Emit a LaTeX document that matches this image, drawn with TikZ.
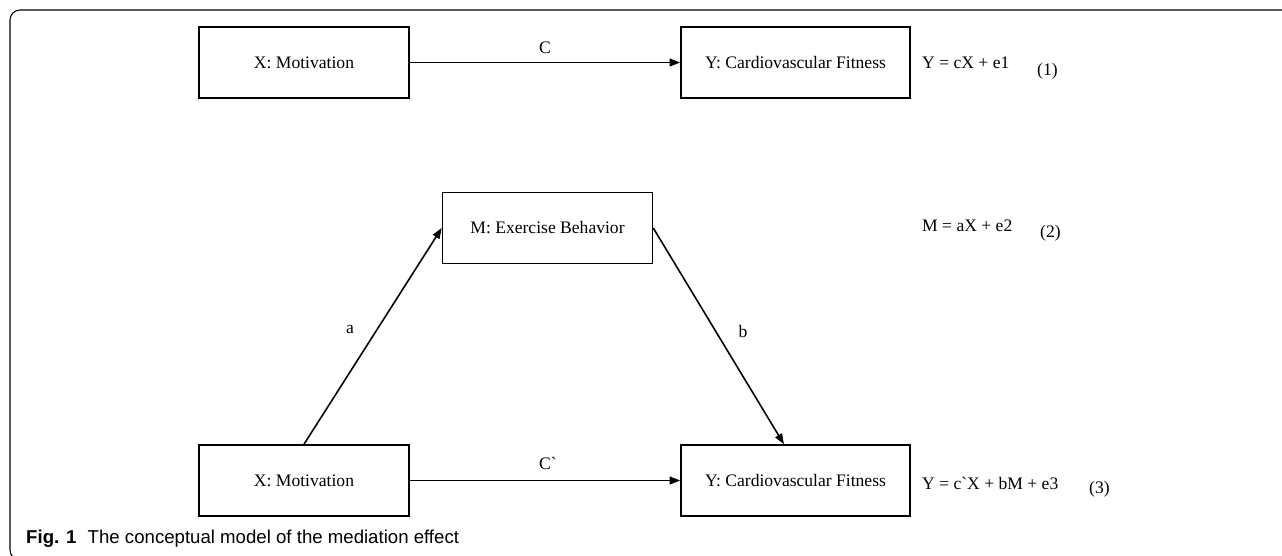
\documentclass[tikz,border=0pt]{standalone}
\usepackage{fontspec}
\setmainfont{Liberation Serif}[Ligatures=TeXOff]
\newfontfamily\capfont{Liberation Sans}
\usetikzlibrary{arrows.meta,calc}
\newcommand{\cfit}{Y: Cardiovascular Fitness}
\tikzset{>={Triangle[length=6pt,width=4.4pt]},every node/.style={font=\fontsize{10}{12}\selectfont},flow/.style={line width=.9pt,->},varbox/.style={draw,line width=.9pt,minimum width=4.2cm,minimum height=1.42cm},widebox/.style={varbox,minimum width=4.58cm},eqn/.style={anchor=west}}

\begin{document}
\begin{tikzpicture}[x=.02cm,y=-.02cm]
\useasboundingbox (0,0) rectangle (1282,555);
\draw[line width=.6pt,rounded corners=5.7pt] (1295,10)--(10,10)--(10,560)--(40,560);
% Modele (1) : effet total
\node[varbox] (X1) at (304,62.5){X: Motivation};\node[widebox] (Y1) at (795.5,62.5){\cfit};
\draw[flow] (X1)--(Y1) node[midway,above=1pt]{C};
\node[eqn] (eq1) at (916,63){Y = cX + e1};\node[eqn] (n1) at (1031,71){(1)};
% Modele (2)-(3) : mediation par M
\node[varbox] (M) at (547.5,228){M: Exercise Behavior};
\node[varbox] (X2) at (304,480.5){X: Motivation};\node[widebox] (Y2) at (795.5,480.5){\cfit};
\coordinate (Yb) at ($(Y2.north west)!.45!(Y2.north east)$);
\draw[flow] (X2.north)--(M.west);\node (la) at (350,329){a};
\draw[flow] (M.east)--(Yb);\node (lb) at (743,331){b};
\draw[flow] (X2)--(Y2);\node (lc) at (548,463){C`};
\node[eqn] (eq2) at (916,226){M = aX + e2};\node[eqn] (n2) at (1034,233){(2)};
\node[eqn] (eq3) at (916,483){Y = c`X + bM + e3};\node[eqn] (n3) at (1083,489){(3)};
\node[anchor=west,font=\capfont\fontsize{10.6}{12}\selectfont] (cap) at (20,539){\textbf{Fig. 1}\hspace{.6em}The conceptual model of the mediation effect};
\end{tikzpicture}
\end{document}
